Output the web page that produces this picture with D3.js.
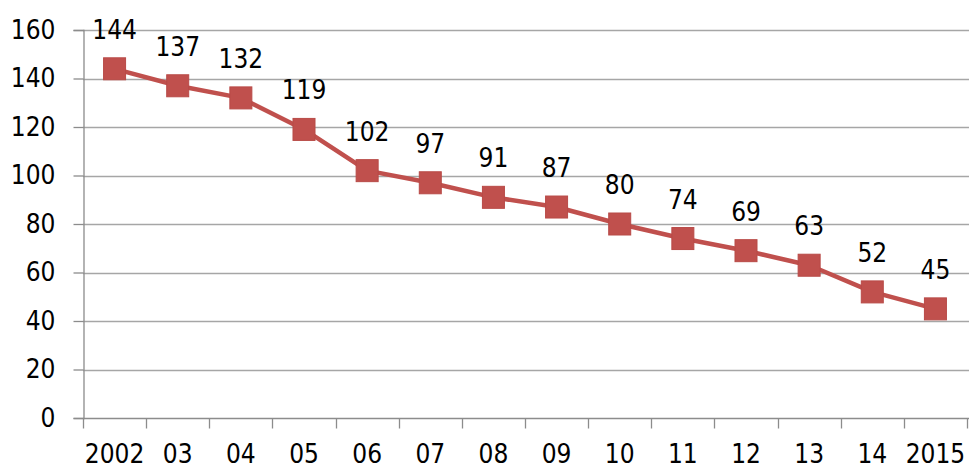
<!DOCTYPE html>
<html>
<head>
<meta charset="utf-8">
<script src="https://cdn.jsdelivr.net/npm/d3@7"></script>
<style>
  body { margin: 0; background: #fff; }
  svg { display: block; font-family: "DejaVu Sans Condensed", "DejaVu Sans", sans-serif; }
</style>
</head>
<body>
<svg width="969" height="468"></svg>
<script>
// data
const years = ['2002', '03', '04', '05', '06', '07', '08', '09', '10', '11', '12', '13', '14', '2015'];
const values = [144, 137, 132, 119, 102, 97, 91, 87, 80, 74, 69, 63, 52, 45];
const yTicks = [0, 20, 40, 60, 80, 100, 120, 140, 160];

const font = '"DejaVu Sans Condensed", "DejaVu Sans", sans-serif';
const svg = d3.select('svg');
const margin = { top: 30, right: 2, bottom: 50, left: 83 };
const width = +svg.attr('width');
const height = +svg.attr('height');

const x = d3.scaleBand()
  .domain(years)
  .range([margin.left, width - margin.right]);

const y = d3.scaleLinear()
  .domain([0, 160])
  .range([height - margin.bottom, margin.top]);

// gridlines
svg.append('g')
  .attr('class', 'grid')
  .selectAll('line')
  .data(yTicks.filter(d => d > 0))
  .enter()
  .append('line')
    .attr('x1', margin.left)
    .attr('x2', width)
    .attr('y1', d => Math.round(y(d)) + 0.5)
    .attr('y2', d => Math.round(y(d)) + 0.5)
    .attr('stroke', '#a6a6a6')
    .attr('stroke-width', 1.3);

// y axis
const yAxis = svg.append('g')
  .attr('transform', `translate(${margin.left + 0.5},0)`)
  .call(d3.axisLeft(y).tickValues(yTicks).tickSize(10).tickPadding(18));

// x axis
const xAxis = svg.append('g')
  .attr('transform', `translate(0,${Math.round(y(0)) + 0.5})`)
  .call(d3.axisBottom(x).tickSize(0).tickPadding(26));

xAxis.selectAll('.tick-mark')
  .data(d3.range(years.length + 1))
  .enter()
  .append('line')
    .attr('x1', i => Math.round(margin.left + i * x.step()) + 0.5)
    .attr('x2', i => Math.round(margin.left + i * x.step()) + 0.5)
    .attr('y1', 0)
    .attr('y2', 10)
    .attr('stroke', '#8c8c8c')
    .attr('stroke-width', 1.3);

[yAxis, xAxis].forEach(ax => {
  ax.attr('font-family', font).attr('font-size', 26);
  ax.select('.domain').attr('stroke', '#8c8c8c').attr('stroke-width', 1.3);
  ax.selectAll('.tick line').attr('stroke', '#8c8c8c').attr('stroke-width', 1.3);
  ax.selectAll('text').attr('fill', '#000');
});
xAxis.select('.domain').attr('d', `M${margin.left},0H${width}`);

// line
const line = d3.line()
  .x((d, i) => x(years[i]) + x.bandwidth() / 2)
  .y(d => y(d));

svg.append('path')
  .datum(values)
  .attr('fill', 'none')
  .attr('stroke', '#c0504d')
  .attr('stroke-width', 4.5)
  .attr('stroke-linejoin', 'round')
  .attr('d', line);

const points = svg.append('g')
  .selectAll('g')
  .data(values)
  .enter()
  .append('g')
    .attr('transform', (d, i) => `translate(${x(years[i]) + x.bandwidth() / 2},${y(d)})`);

points.append('rect')
  .attr('x', -11)
  .attr('y', -11)
  .attr('width', 22)
  .attr('height', 22)
  .attr('fill', '#c0504d')
  .attr('stroke', '#b84a47')
  .attr('stroke-width', 1);

points.append('text')
  .attr('text-anchor', 'middle')
  .attr('y', -30)
  .attr('font-family', font)
  .attr('font-size', 26)
  .attr('fill', '#000')
  .text(d => d);
</script>
</body>
</html>
